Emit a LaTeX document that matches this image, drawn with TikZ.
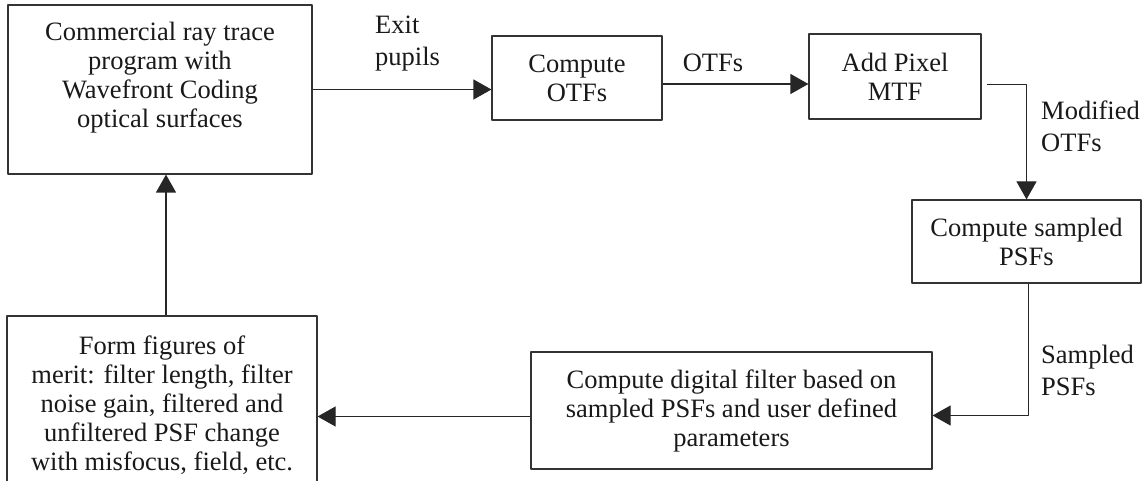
\documentclass[tikz,border=0pt]{standalone}
\usepackage{fontspec}
\setmainfont{Liberation Serif}
\usetikzlibrary{calc}
\usetikzlibrary{positioning}
\usetikzlibrary{arrows.meta}

\begin{document}
\begin{tikzpicture}[x=1pt, y=-1pt, line join=round,
    blockbox/.style={draw=black!80, line width=1.2pt, align=center, inner sep=0pt,
      text=black!90, font=\fontsize{26.5}{29}\selectfont},
    flow/.style={draw=black!85, line width=1.2pt, -{Triangle[length=18pt, width=20pt]}},
    flowlabel/.style={align=left, inner sep=0pt, text=black!90,
      font=\fontsize{26.5}{32}\selectfont}]
  \useasboundingbox (0,0) rectangle (1143,481);
  % process blocks, clockwise from top left
  \node[blockbox, minimum width=304, minimum height=169, text depth=29.5pt] (raytrace) at (160,89.5)
    {Commercial ray trace\\program with\\Wavefront Coding\\optical surfaces};
  \node[blockbox, minimum width=170, minimum height=84] (computeotf) at (577,78) {Compute\\OTFs};
  \node[blockbox, minimum width=172, minimum height=85] (addpixel) at (895,76.5) {Add Pixel\\MTF};
  \node[blockbox, minimum width=229, minimum height=83] (samplepsf) at (1026.5,241.5)
    {Compute sampled\\PSFs};
  \node[blockbox, minimum width=401, minimum height=117] (digfilter) at (731.5,410.5)
    {Compute digital filter based on\\sampled PSFs and user defined\\parameters};
  \node[blockbox, minimum width=310, minimum height=178] (merit) at (162,405)
    {Form figures of\\merit: filter length, filter\\noise gain, filtered and\\unfiltered PSF change\\with misfocus, field, etc.};
  % connectors
  \draw[flow] (raytrace.east) -- (raytrace.east -| computeotf.west);
  \draw[flow] ([yshift=-6pt]computeotf.east) -- ([yshift=-6pt]computeotf.east -| addpixel.west);
  \draw[flow] ([xshift=5pt, yshift=-8pt]addpixel.east) -| (samplepsf.north);
  \draw[flow] ([xshift=2pt]samplepsf.south) |- ([yshift=-5pt]digfilter.east);
  \draw[flow] ([yshift=-6pt]digfilter.west) -- ([yshift=-6pt]digfilter.west -| merit.east);
  \draw[flow] ([xshift=4pt]merit.north) -- ([xshift=4pt]merit.north |- raytrace.south);
  % connector labels
  \node[flowlabel, anchor=west] (exitlbl) at (375,44) {Exit\\pupils};
  \node[flowlabel] (otflbl) at (713,63) {OTFs};
  \node[flowlabel, anchor=west] (modlbl) at (1041,126) {Modified\\OTFs};
  \node[flowlabel, anchor=west] (samplbl) at (1041,370) {Sampled\\PSFs};
\end{tikzpicture}
\end{document}
